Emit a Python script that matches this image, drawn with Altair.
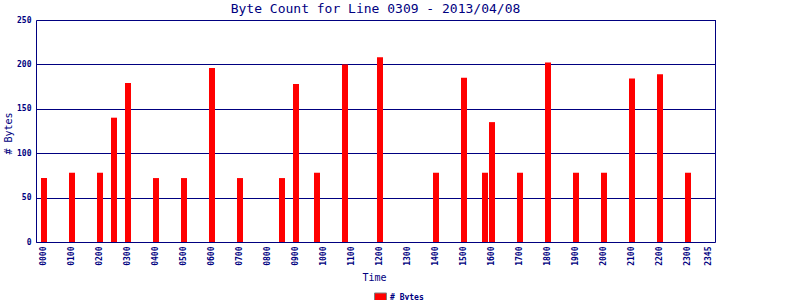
import altair as alt
import pandas as pd

# Bars present in the reference (time slot, byte count)
times = ["0000", "0100", "0200", "0230", "0300", "0400", "0500", "0600", "0700",
         "0830", "0900", "0945", "1045", "1200", "1400", "1500", "1545", "1600",
         "1700", "1800", "1900", "2000", "2100", "2200", "2300"]
values = [72, 78, 78, 140, 179, 72, 72, 196, 72,
          72, 178, 78, 200, 208, 78, 185, 78, 135,
          78, 202, 78, 78, 184, 189, 78]

# All 15-minute slots of the day (x categories) and the shown tick labels
slots = [f"{h:02d}{m:02d}" for h in range(24) for m in (0, 15, 30, 45)]
tick_labels = [f"{h:02d}00" for h in range(24)] + ["2345"]
y_ticks = [0, 50, 100, 150, 200, 250]

series_name = "# Bytes"
df = pd.DataFrame({"time": times, "bytes": values, "series": [series_name] * len(times)})

NAVY = "#000080"
FONT = "DejaVu Sans Mono"

bars = alt.Chart(df).mark_bar().encode(
    x=alt.X(
        "time:O",
        scale=alt.Scale(domain=slots, paddingInner=1 / 7, paddingOuter=0.571, align=0.625),
        axis=alt.Axis(
            values=tick_labels, labelAngle=-90, ticks=False, domain=True,
            domainColor=NAVY, domainWidth=1,
            labelFont=FONT, labelFontSize=8, labelFontWeight="bold", labelColor=NAVY,
            labelPadding=4, title="Time", titleFont=FONT, titleFontSize=10,
            titleFontWeight="normal", titleColor=NAVY, titleX=338, titleY=35,
            titleAlign="center", titleBaseline="middle", labelOverlap=False,
        ),
    ),
    y=alt.Y(
        "bytes:Q",
        scale=alt.Scale(domain=[0, 250], nice=False),
        axis=alt.Axis(
            values=y_ticks, ticks=False, domain=True, domainColor=NAVY, domainWidth=1,
            grid=True, gridColor=NAVY,
            gridWidth=1, gridOpacity=1, labelFont=FONT, labelFontSize=8,
            labelFontWeight="bold", labelColor=NAVY, labelPadding=5,
            title="# Bytes", titleFont=FONT, titleFontSize=10, titleFontWeight="normal",
            titleColor=NAVY, titleAngle=-90, titleX=-28, titleY=113,
            titleAlign="center", titleBaseline="middle",
        ),
    ),
    color=alt.Color(
        "series:N",
        scale=alt.Scale(domain=[series_name], range=["#ff0000"]),
        legend=alt.Legend(
            title=None, orient="none", legendX=338, legendY=271,
            symbolType="M-1,-0.75H1V0.75H-1Z", symbolSize=144,
            symbolStrokeColor="#808080", symbolStrokeWidth=1, symbolOpacity=1,
            labelFont=FONT, labelFontSize=8, labelFontWeight="bold",
            labelColor=NAVY, labelOffset=3, padding=0,
        ),
    ),
)

right_border = alt.Chart(df).mark_rule(color=NAVY, strokeWidth=1).encode(
    x=alt.value(679.5), y=alt.value(0), y2=alt.value(222)
)

chart = alt.layer(bars, right_border).properties(
    width=679,
    height=222,
    title=alt.TitleParams(
        "Byte Count for Line 0309 - 2013/04/08", font=FONT, fontSize=13,
        fontWeight="normal", color=NAVY, anchor="middle", offset=0,
    ),
    autosize=alt.AutoSizeParams(type="none"),
    padding={"left": 36, "top": 20, "right": 85, "bottom": 58},
).configure_view(
    stroke=None
).configure(background="white")

chart.save("out.html", embed_options={"renderer": "svg", "actions": False})
